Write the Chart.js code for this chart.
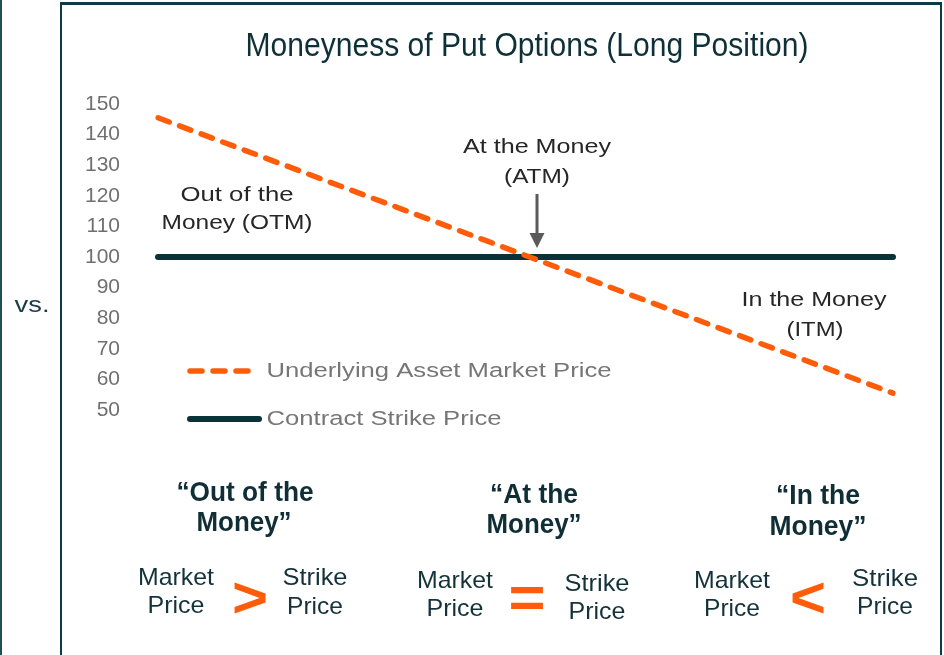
<!DOCTYPE html>
<html>
<head>
<meta charset="utf-8">
<script src="https://cdn.jsdelivr.net/npm/chart.js@4.4.1/dist/chart.umd.min.js"></script>
<style>
html,body{margin:0;padding:0;background:#fff;}
#wrap{position:relative;width:944px;height:655px;}
canvas{display:block;}
</style>
</head>
<body>
<div id="wrap"><canvas id="c" width="944" height="655"></canvas></div>
<script>
// ---- data ----
const categories = ["1","2","3","4","5","6","7","8","9","10"];
const marketPrice = [145.5, 135.5, 125.5, 115.5, 105.5, 95.5, 85.5, 75.5, 65.5, 55.5];
const strikePrice = [100, 100, 100, 100, 100, 100, 100, 100, 100, 100];
const yTicks = [50, 60, 70, 80, 90, 100, 110, 120, 130, 140, 150];
const seriesNames = ["Underlying Asset Market Price", "Contract Strike Price"];
const titleText = "Moneyness of Put Options (Long Position)";

// ---- styles / layout ----
const ORANGE = "#ff5c0a";
const TEAL = "#0b3139";
const SANS = "'Liberation Sans', Arial, sans-serif";
const NARROW = "'Liberation Sans Narrow', 'Arial Narrow', 'Liberation Sans', Arial, sans-serif";

// text items: [text, centerX, centerY, font, color, targetWidth]
const textItems = [
  [titleText, 527, 47, "33px " + SANS, "#0e3038", 563],
  ["vs.", 32, 306, "22px " + SANS, "#1b3c46", 35],
  ["Out of the", 237, 195, "21px " + SANS, "#262626", 113],
  ["Money (OTM)", 237, 223, "21px " + SANS, "#262626", 151],
  ["At the Money", 537, 147, "21px " + SANS, "#262626", 148],
  ["(ATM)", 537, 177, "21px " + SANS, "#262626", 66],
  ["In the Money", 814, 300, "21px " + SANS, "#262626", 145],
  ["(ITM)", 815, 330, "21px " + SANS, "#262626", 57],
  ["\u201COut of the", 245, 493, "bold 28px " + NARROW, "#0f2e35", 137],
  ["Money\u201D", 244, 523, "bold 28px " + NARROW, "#0f2e35", 95],
  ["\u201CAt the", 534, 495, "bold 28px " + NARROW, "#0f2e35", 88],
  ["Money\u201D", 534, 525, "bold 28px " + NARROW, "#0f2e35", 95],
  ["\u201CIn the", 818, 496, "bold 28px " + NARROW, "#0f2e35", 84],
  ["Money\u201D", 818, 527, "bold 28px " + NARROW, "#0f2e35", 97],
  ["Market", 176, 578, "24px " + NARROW, "#14323a", 76],
  ["Price", 176, 606, "24px " + NARROW, "#14323a", 57],
  ["Strike", 315, 578, "24px " + NARROW, "#14323a", 65],
  ["Price", 315, 607, "24px " + NARROW, "#14323a", 56],
  ["Market", 455, 581, "24px " + NARROW, "#14323a", 76],
  ["Price", 455, 609, "24px " + NARROW, "#14323a", 57],
  ["Strike", 597, 584, "24px " + NARROW, "#14323a", 65],
  ["Price", 597, 612, "24px " + NARROW, "#14323a", 57],
  ["Market", 732, 581, "24px " + NARROW, "#14323a", 76],
  ["Price", 732, 609, "24px " + NARROW, "#14323a", 56],
  ["Strike", 885, 579, "24px " + NARROW, "#14323a", 66],
  ["Price", 885, 607, "24px " + NARROW, "#14323a", 56],
  [">", 250, 601, "bold 58px " + SANS, ORANGE, 36],
  ["=", 527, 601, "bold 58px " + SANS, ORANGE, 37],
  ["<", 808, 601, "bold 58px " + SANS, ORANGE, 36]
];

function drawText(ctx, t) {
  const [text, cx, cy, font, color, tw] = t;
  ctx.save();
  ctx.font = font;
  ctx.fillStyle = color;
  ctx.textAlign = "center";
  ctx.textBaseline = "middle";
  const w = ctx.measureText(text).width;
  const sx = tw ? tw / w : 1;
  ctx.translate(cx, cy);
  ctx.scale(sx, 1);
  ctx.fillText(text, 0, 0);
  ctx.restore();
}

const decor = {
  id: "decor",
  beforeDraw(chart) {
    const ctx = chart.ctx;
    ctx.save();
    ctx.fillStyle = "#fff";
    ctx.fillRect(0, 0, chart.width, chart.height);
    ctx.fillStyle = "#1f4d58";
    ctx.fillRect(0, 0, 2, chart.height);
    ctx.fillStyle = "#0d3a44";
    ctx.fillRect(60, 2, 2, chart.height);
    ctx.fillRect(60, 2, 882, 3);
    ctx.fillRect(940, 2, 2, chart.height);
    ctx.restore();
  },
  afterDraw(chart) {
    const ctx = chart.ctx;
    textItems.forEach(t => drawText(ctx, t));
    // legend
    const ds = chart.data.datasets;
    const legendRows = [[190, 254, 371], [190, 259, 419]];
    ds.forEach((d, i) => {
      const [x0, x1, y] = legendRows[i];
      ctx.save();
      ctx.strokeStyle = d.borderColor;
      ctx.lineWidth = d.borderWidth;
      ctx.lineCap = "round";
      ctx.setLineDash(d.borderDash || []);
      ctx.beginPath();
      ctx.moveTo(x0, y);
      ctx.lineTo(x1, y);
      ctx.stroke();
      ctx.restore();
      drawText(ctx, [d.label, i === 0 ? 439 : 384, y, "20.5px " + SANS, "#767676", i === 0 ? 345 : 235]);
    });
    // ATM arrow
    ctx.save();
    ctx.strokeStyle = "#5a5a5a";
    ctx.fillStyle = "#5a5a5a";
    ctx.lineWidth = 3;
    ctx.beginPath();
    ctx.moveTo(537, 194);
    ctx.lineTo(537, 236);
    ctx.stroke();
    ctx.beginPath();
    ctx.moveTo(529.5, 233);
    ctx.lineTo(544.5, 233);
    ctx.lineTo(537, 248);
    ctx.closePath();
    ctx.fill();
    ctx.restore();
  }
};

new Chart(document.getElementById("c"), {
  type: "line",
  data: {
    labels: categories,
    datasets: [
      {
        label: seriesNames[0],
        data: marketPrice,
        borderColor: ORANGE,
        borderWidth: 5.5,
        borderDash: [12, 11],
        borderCapStyle: "round",
        pointRadius: 0,
        fill: false,
        tension: 0
      },
      {
        label: seriesNames[1],
        data: strikePrice,
        borderColor: TEAL,
        borderWidth: 6,
        borderCapStyle: "round",
        pointRadius: 0,
        fill: false,
        tension: 0
      }
    ]
  },
  options: {
    responsive: false,
    devicePixelRatio: 1,
    animation: false,
    layout: { padding: { top: 104, bottom: 245, left: 0, right: 51 } },
    plugins: {
      legend: { display: false },
      title: { display: false },
      tooltip: { enabled: false }
    },
    scales: {
      x: { display: false, offset: false },
      y: {
        min: 50,
        max: 150,
        afterFit(scale) { scale.width = 158; },
        afterBuildTicks(scale) { scale.ticks = yTicks.map(v => ({ value: v })); },
        grid: { display: false },
        border: { display: false },
        ticks: {
          color: "#707070",
          font: { family: SANS, size: 21 },
          padding: 30
        }
      }
    }
  },
  plugins: [decor]
});
</script>
</body>
</html>
